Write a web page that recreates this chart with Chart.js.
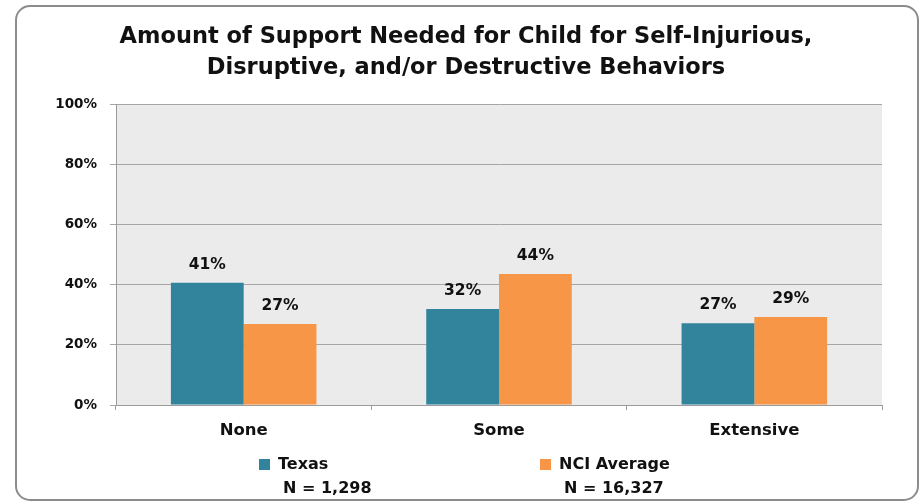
<!DOCTYPE html>
<html>
<head>
<meta charset="utf-8">
<script src="https://cdn.jsdelivr.net/npm/chart.js@4"></script>
<style>
html,body{margin:0;padding:0;background:#fff;}
#wrap{width:921px;height:502px;position:relative;}
</style>
</head>
<body>
<div id="wrap"><canvas id="c" width="921" height="502"></canvas></div>
<script>
const categories = ["None", "Some", "Extensive"];
const texasValues = [40.6, 31.9, 27.2];
const nciValues = [26.9, 43.5, 29.2];
const yTicks = [0, 20, 40, 60, 80, 100];
const seriesNames = ["Texas", "NCI Average"];
const seriesN = ["N = 1,298", "N = 16,327"];
const titleLines = ["Amount of Support Needed for Child for Self-Injurious,", "Disruptive, and/or Destructive Behaviors"];

const FONT = "'DejaVu Sans', sans-serif";
const TEAL = "#31849B";
const ORANGE = "#F79646";

const framePlugin = {
  id: 'frame',
  beforeDraw(chart) {
    const ctx = chart.ctx, a = chart.chartArea;
    ctx.save();
    ctx.fillStyle = '#fff';
    ctx.fillRect(0, 0, chart.width, chart.height);
    ctx.fillStyle = '#EBEBEB';
    ctx.fillRect(a.left, a.top, a.right - a.left, a.bottom - a.top);
    ctx.restore();
  },
  afterDraw(chart) {
    const ctx = chart.ctx;
    ctx.save();
    // frame
    ctx.strokeStyle = '#8C8C8C';
    ctx.lineWidth = 2;
    ctx.beginPath();
    ctx.roundRect(16, 6, 902, 494, 14);
    ctx.stroke();
    // title
    ctx.fillStyle = '#111';
    ctx.textAlign = 'center';
    ctx.textBaseline = 'middle';
    ctx.font = "bold 22.5px " + FONT;
    ctx.fillText(titleLines[0], 466, 37);
    ctx.fillText(titleLines[1], 466, 68);
    // data labels
    ctx.font = "bold 15.5px " + FONT;
    chart.data.datasets.forEach((ds, i) => {
      const meta = chart.getDatasetMeta(i);
      meta.data.forEach((bar, j) => {
        ctx.fillText(Math.round(ds.data[j]) + '%', bar.x, bar.y - 18);
      });
    });
    // legend
    const colors = [TEAL, ORANGE];
    const pos = [259, 540];
    ctx.textAlign = 'left';
    ctx.font = "bold 16px " + FONT;
    for (let i = 0; i < 2; i++) {
      ctx.fillStyle = colors[i];
      ctx.fillRect(pos[i], 459, 11, 11);
      ctx.fillStyle = '#111';
      ctx.fillText(seriesNames[i], pos[i] + 19, 465);
      ctx.fillText(seriesN[i], pos[i] + 24, 489);
    }
    ctx.restore();
  }
};

new Chart(document.getElementById('c'), {
  type: 'bar',
  data: {
    labels: categories,
    datasets: [
      { label: seriesNames[0], data: texasValues, backgroundColor: TEAL, borderWidth: 0 },
      { label: seriesNames[1], data: nciValues, backgroundColor: ORANGE, borderWidth: 0 }
    ]
  },
  options: {
    responsive: false,
    animation: false,
    devicePixelRatio: 1,
    layout: { padding: { left: 0, right: 39, top: 104, bottom: 0 } },
    plugins: {
      legend: { display: false },
      tooltip: { enabled: false },
      title: { display: false }
    },
    datasets: { bar: { categoryPercentage: 0.57, barPercentage: 1.0 } },
    scales: {
      x: {
        afterFit(s) { s.height = 97; },
        grid: { display: true, drawOnChartArea: false, drawTicks: true, tickLength: 5, color: '#9A9A9A', offset: true },
        border: { display: true, color: '#9A9A9A', width: 1 },
        ticks: { color: '#111', font: { family: FONT, size: 16.5, weight: 'bold' }, padding: 11 }
      },
      y: {
        min: 0, max: 100,
        afterFit(s) { s.width = 116; },
        afterBuildTicks(s) { s.ticks = yTicks.map(v => ({ value: v })); },
        grid: { color: '#A6A6A6', lineWidth: 1, tickLength: 6 },
        border: { display: true, color: '#9A9A9A', width: 1 },
        ticks: { color: '#111', font: { family: FONT, size: 13.5, weight: 'bold' }, padding: 13, callback: v => v + '%' }
      }
    }
  },
  plugins: [framePlugin]
});
</script>
</body>
</html>
